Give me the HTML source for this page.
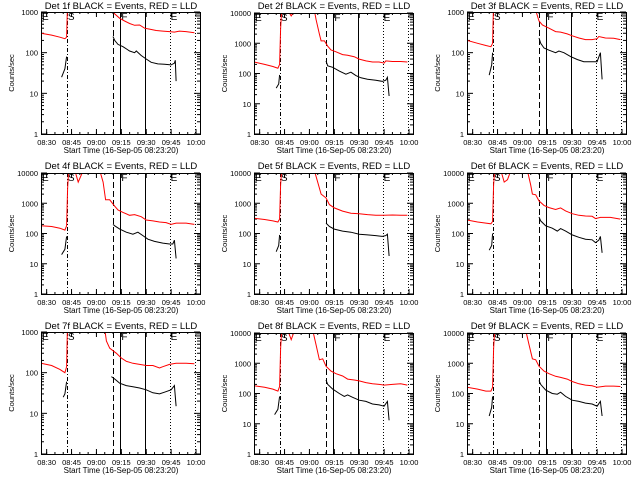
<!DOCTYPE html>
<html><head><meta charset="utf-8"><style>
html,body{margin:0;padding:0;background:#fff;}
svg{display:block;font-family:"Liberation Sans",sans-serif;}
</style></head><body>
<svg id="fig" width="640" height="480" viewBox="0 0 640 480"></svg>
<script>
const panelTitles = ["Det 1f BLACK = Events, RED = LLD","Det 2f BLACK = Events, RED = LLD","Det 3f BLACK = Events, RED = LLD","Det 4f BLACK = Events, RED = LLD","Det 5f BLACK = Events, RED = LLD","Det 6f BLACK = Events, RED = LLD","Det 7f BLACK = Events, RED = LLD","Det 8f BLACK = Events, RED = LLD","Det 9f BLACK = Events, RED = LLD"];
const yMaxDecades = [3,4,3,4,4,4,3,4,4];
const xTickLabels = ["08:30","08:45","09:00","09:15","09:30","09:45","10:00"];
const xTickMinutes = [0,15,30,45,60,75,90];
const markerMinutes = [12.2,39.8,44.4,59.4,74.1,89.6];
const markerStyles = ["dashdot","dashed","solid","solid","dotted","dotted"];
// time in minutes from 08:30; null = gap
const red1 = [[-3.4,300],[3,270],[8,240],[11,220],[12,240],[12.5,1200],null,[39,1200],[41,900],[44,700],[47,600],[50,520],[53,470],[56,480],[59,400],[62,380],[66,350],[70,340],[74,330],[77,320],[80,340],[84,330],[89,310]];
const black1 = [[9,25],[11,40],[12,80],null,[40,250],[41,200],[43,160],[46,140],[50,110],[53,100],[54,110],[57,85],[60,70],[63,58],[67,53],[71,52],[75,50],[77,55],[77.5,65],[78,20]];
const red2 = [[-3.4,240],[3,200],[8,170],[11,150],[12,200],[12.6,3000],[13.2,12000],null,[17,12000],[19,8000],[21,12000],null,[33,12000],[34,6000],[36,2000],[37,1200],[39,1200],[41,800],[43,600],[46,520],[50,420],[53,400],[57,360],[60,300],[64,260],[68,240],[72,240],[75,220],[76,260],[80,250],[85,250],[89,240]];
const black2 = [[10,33],[11.5,45],[12,90],null,[40,260],[41,180],[44,160],[48,120],[52,95],[55,110],[58,85],[61,72],[65,65],[70,60],[74,55],[76,60],[77,75],[78,18]];
const red3 = [[-3.4,200],[3,170],[8,150],[11,140],[12,170],[12.5,1200],null,[36,1200],[38,1100],[40,600],[42,480],[46,400],[50,330],[53,320],[57,290],[60,260],[64,230],[68,210],[72,210],[75,220],[76,250],[80,230],[85,225],[89,210]];
const black3 = [[10,28],[11.5,50],[12,100],null,[40,230],[41,170],[43,130],[46,115],[50,100],[52,110],[55,100],[59,80],[63,68],[67,60],[71,60],[75,60],[77,100],[78,22]];
const red4 = [[-3.4,180],[3,170],[8,150],[11,130],[12,180],[12.6,3000],[13.2,12000],null,[17,12000],[19,5000],[22,12000],null,[32,12000],[34,5000],[35.5,1300],[38,1300],[41,800],[43,600],[46,500],[50,400],[53,420],[57,360],[60,280],[64,260],[68,240],[72,230],[75,200],[78,220],[84,220],[89,200]];
const black4 = [[9,20],[11,30],[12,80],null,[40,200],[41,180],[44,140],[48,110],[52,95],[55,110],[58,85],[61,65],[65,55],[70,48],[74,45],[76,45],[77,60],[78,15]];
const red5 = [[-3.4,320],[3,290],[8,260],[11,240],[12,300],[12.6,4000],[13.2,12000],null,[33,12000],[35,5000],[37,2000],[40,1500],[42,900],[45,700],[50,550],[55,470],[60,450],[65,420],[70,400],[75,400],[80,410],[85,400],[89,400]];
const black5 = [[10,25],[11.5,40],[12,90],null,[40,220],[42,170],[45,140],[50,120],[55,110],[60,95],[65,90],[70,85],[74,80],[76,85],[77,95],[78,18]];
const red6 = [[-3.4,280],[3,240],[8,220],[11,210],[12,250],[12.6,4000],[13.2,12000],null,[17,12000],[19,5000],[21,6000],[23,12000],null,[33,12000],[35,4000],[36,2000],[38,1900],[40,1200],[43,850],[46,720],[50,620],[53,700],[56,560],[60,450],[64,400],[68,380],[72,370],[74,310],[77,340],[83,340],[89,300]];
const black6 = [[10,28],[11.5,40],[12,100],null,[40,350],[41,260],[44,180],[48,150],[51,120],[53,145],[56,120],[60,90],[64,75],[68,65],[72,62],[74,50],[76,60],[77,80],[78,23]];
const red7 = [[-3.4,170],[3,150],[8,120],[11,100],[12,140],[12.5,1200],null,[35,1200],[36,600],[38,400],[42,300],[45,230],[48,190],[52,170],[56,160],[60,150],[64,150],[68,130],[70,140],[74,160],[78,170],[84,170],[89,165]];
const black7 = [[10,25],[11,30],[12,60],null,[39,80],[41,70],[44,55],[48,48],[52,45],[56,42],[60,38],[64,32],[68,30],[71,33],[75,38],[77,48],[78,15]];
const red8 = [[-3.4,180],[3,160],[8,140],[11,120],[12,170],[12.6,3000],[13.2,12000],null,[17,12000],[19,6000],[21,12000],null,[32,12000],[34,4000],[36,1300],[38,1400],[40,800],[43,550],[46,450],[50,380],[53,300],[57,280],[60,260],[64,230],[68,210],[72,200],[75,190],[80,200],[85,210],[89,190]];
const black8 = [[9,20],[11,30],[12,80],null,[40,280],[41,200],[44,140],[48,100],[51,80],[53,90],[56,75],[60,60],[64,55],[68,45],[72,42],[75,38],[77,55],[78,13]];
const red9 = [[-3.4,160],[3,140],[8,120],[11,120],[12,160],[12.6,3000],[13.2,12000],null,[18,12000],[21,12000],null,[32,12000],[34,4000],[36,1400],[38,1300],[40,800],[43,550],[46,450],[50,370],[53,340],[57,300],[60,250],[64,210],[68,190],[72,180],[75,160],[80,175],[85,175],[89,170]];
const black9 = [[10,18],[11.5,35],[12,80],null,[40,270],[41,200],[44,130],[48,100],[51,95],[53,110],[56,80],[60,60],[64,55],[68,48],[72,45],[75,38],[77,55],[78,18]];
const redSeries = [red1,red2,red3,red4,red5,red6,red7,red8,red9];
const blackSeries = [black1,black2,black3,black4,black5,black6,black7,black8,black9];

const NS = "http://www.w3.org/2000/svg";
const svg = document.getElementById("fig");
const TMIN = -3.4, TMAX = 92.4;
function mk(tag, attrs, parent){const e=document.createElementNS(NS,tag);for(const k in attrs)e.setAttribute(k,attrs[k]);parent.appendChild(e);return e;}

for(let p=0;p<9;p++){
  const ox=(p%3)*213, oy=Math.floor(p/3)*160;
  const dec=yMaxDecades[p];
  const L=ox+41, R=ox+200, T=oy+(dec===3?12:13), B=oy+134;
  const xs=t=>L+(t-TMIN)/(TMAX-TMIN)*(R-L);
  const ys=v=>B-Math.log10(Math.max(v,1e-3))/dec*(B-T);
  const g=mk("g",{},svg);
  
  
  const clipId="clip"+p;
  const cp=mk("clipPath",{id:clipId},g);
  mk("rect",{x:L,y:T,width:R-L,height:B-T},cp);
  const ti=mk("text",{x:ox+121,y:oy+9,"font-size":"9.5","text-anchor":"middle",fill:"#000"},g);
  ti.textContent=panelTitles[p];
  
  
  const yl=mk("text",{x:0,y:0,"font-size":"7.5","text-anchor":"middle",fill:"#000",transform:`translate(${ox+14},${(T+B)/2}) rotate(-90)`},g);
  yl.textContent="Counts/sec";
  
  
  const xl=mk("text",{x:ox+121,y:oy+153,"font-size":"8","text-anchor":"middle",fill:"#000"},g);
  xl.textContent="Start Time (16-Sep-05 08:23:20)";
  
  
  for(let d=0;d<=dec;d++){
    const y=ys(Math.pow(10,d));
    mk("line",{x1:L,x2:L+6,y1:y,y2:y,stroke:"#000","stroke-width":1},g);
    mk("line",{x1:R-6,x2:R,y1:y,y2:y,stroke:"#000","stroke-width":1},g);
    const lb=mk("text",{x:L-3,y:y+3,"font-size":"7.5","text-anchor":"end",fill:"#000"},g);
    lb.textContent=String(Math.pow(10,d));
    
    
    if(d<dec){for(let m=2;m<=9;m++){const ym=ys(m*Math.pow(10,d));
      mk("line",{x1:L,x2:L+3,y1:ym,y2:ym,stroke:"#000","stroke-width":1},g);
      mk("line",{x1:R-3,x2:R,y1:ym,y2:ym,stroke:"#000","stroke-width":1},g);}}
  }
  xTickMinutes.forEach((t,i)=>{
    const x=xs(t);
    mk("line",{x1:x,x2:x,y1:B,y2:B-5,stroke:"#000","stroke-width":1},g);
    mk("line",{x1:x,x2:x,y1:T,y2:T+5,stroke:"#000","stroke-width":1},g);
    const lb=mk("text",{x:x,y:oy+145,"font-size":"7.5","text-anchor":"middle",fill:"#000"},g);
    lb.textContent=xTickLabels[i];
    
    
  });
  for(let t=0;t<=90;t+=5){const x=xs(t);
    mk("line",{x1:x,x2:x,y1:B,y2:B-2,stroke:"#000","stroke-width":1},g);
    mk("line",{x1:x,x2:x,y1:T,y2:T+2,stroke:"#000","stroke-width":1},g);}
  const dashes={solid:"",dashed:"6,3",dotted:"1,2",dashdot:"4,2,1,2"};
  markerMinutes.forEach((t,i)=>{
    const x=Math.round(xs(t))+0.5;
    const ln=mk("line",{x1:x,x2:x,y1:T,y2:B,stroke:"#000","stroke-width":1,"stroke-dasharray":dashes[markerStyles[i]]},g);
    
    
  });
  [["E",L+1],["S",xs(markerMinutes[0])+1],["F",xs(markerMinutes[2])+1],["E",xs(markerMinutes[4])+1]].forEach(([s,x])=>{
    const tx=mk("text",{x:x,y:T+8,"font-size":"10",fill:"#000"},g);
    tx.textContent=s;
    
    
  });
  function drawSeries(arr,color,name){
    let d="",start=true;
    arr.forEach(pt=>{ if(pt===null){start=true;return;}
      d+=(start?"M":"L")+xs(pt[0]).toFixed(1)+","+ys(pt[1]).toFixed(1); start=false;});
    const path=mk("path",{d:d,fill:"none",stroke:color,"stroke-width":1,"clip-path":`url(#${clipId})`},g);
    
    
  }
  drawSeries(redSeries[p],"#ff0000","lld-series-red");
  drawSeries(blackSeries[p],"#000000","events-series-black");
  const fr=mk("rect",{x:L+0.5,y:T+0.5,width:R-L,height:B-T,fill:"none",stroke:"#000","stroke-width":1},g);
  
  
}
</script>
</body></html>
